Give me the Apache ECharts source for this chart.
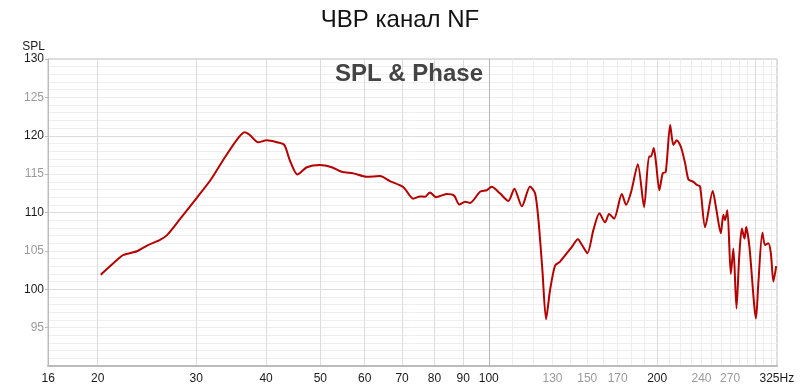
<!DOCTYPE html>
<html><head><meta charset="utf-8">
<script src="https://cdn.jsdelivr.net/npm/echarts@6/dist/echarts.min.js"></script>
<style>html,body{margin:0;padding:0;background:#fff}#c{width:800px;height:391px}</style>
</head><body><div id="c"></div>
<script>
// ---- data ----
const freqHz = [20.25,21.8,22.2,23.5,24.6,25.8,26.6,28.1,30.1,31.8,33.5,35.4,36.6,37.4,38.7,40.1,41.8,43.1,44.1,45.5,47.3,49.9,52.4,54.6,57.3,60.5,63.9,66.6,70.4,73.3,75.4,76.9,78.5,80.5,84.1,86.7,88.6,90.7,92.6,96.5,99.2,101.2,104.7,108.4,111.1,114.6,118.5,121.0,122.7,124.7,126.6,128.7,131.4,134.1,137.9,140.7,144.3,146.7,150.1,153.8,157.7,161.4,164.1,167.5,172.9,176.0,179.7,184.7,189.5,193.4,195.0,197.2,199.1,201.8,204.6,207.2,211.0,213.8,216.8,220.4,224.4,227.5,232.2,235.5,238.6,243.6,251.4,255.0,259.9,262.6,264.4,267.0,270.8,273.7,277.2,280.3,283.4,286.5,288.5,292.4,300.4,303.3,308.4,311.8,316.1,319.3,322.7,326.4];
const splDb = [101.9,104.0,104.45,104.95,105.75,106.4,107.05,109.2,111.95,114.2,116.8,119.4,120.45,120.1,119.15,119.4,119.15,118.8,116.8,114.95,115.9,116.2,115.9,115.3,115.1,114.65,114.75,114.1,113.3,111.8,112.1,112.05,112.6,112.0,112.4,112.2,111.05,111.4,111.25,112.7,112.9,113.35,112.5,111.5,113.1,110.8,113.4,112.5,109.0,102.5,96.1,99.9,103.1,103.6,104.7,105.5,106.5,105.8,104.7,107.7,109.9,108.7,109.8,109.2,112.4,111.0,112.7,116.3,110.7,117.3,117.3,118.4,116.4,112.9,115.1,115.3,121.4,118.8,119.4,118.6,116.4,114.3,114.0,113.6,113.4,108.1,112.8,110.5,107.3,109.7,109.0,110.3,102.0,105.3,97.5,104.2,107.9,106.6,108.1,105.5,96.2,100.8,107.35,105.75,106.0,104.7,101.0,103.0];

const xMin = 16.3, xMax = 327.5;
const xLabelValues = [16.32, 20, 30, 40, 50, 60, 70, 80, 90, 100, 130, 150, 170, 200, 240, 270, 327.3];
const xLabelTexts  = ['16','20','30','40','50','60','70','80','90','100','130','150','170','200','240','270','325Hz'];
const xLabelMuted  = ['130','150','170','240','270'];
const xGridValues = [20,30,40,50,60,70,80,90,100,110,120,130,140,150,160,170,180,190,200,210,220,230,240,250,260,270,280,290,300,310,320];

const yMin = 90, yMax = 130, yStep = 5;
const yLabelMuted = [95, 105, 115, 125];

const chartTitle = 'ЧВР канал NF';
const subTitle = 'SPL & Phase';
const yName = 'SPL';

// ---- styles ----
const FONT = '"Liberation Sans", Arial, Helvetica, sans-serif';
const xGridColors = xGridValues.map(v => v === 100 ? '#b4b4b4' : ((v < 100 || v % 100 === 0) ? '#dcdcdc' : '#ececec'));
const yTicks = [];
for (let v = yMin; v <= yMax; v += yStep) yTicks.push(v);
const yGridColors = yTicks.map(v => v % 10 === 0 ? '#dcdcdc' : '#ececec');

const chart = echarts.init(document.getElementById('c'), null, {renderer: 'canvas'});
chart.setOption({
  animation: false,
  backgroundColor: '#fff',
  title: [
    {text: chartTitle, left: 'center', top: 8, padding: 0,
     textStyle: {fontFamily: FONT, fontSize: 24, fontWeight: 'normal', color: '#111'}},
    {text: subTitle, left: 335, top: 62, padding: 0, z: 10,
     textStyle: {fontFamily: FONT, fontSize: 24, fontWeight: 'bold', color: '#444'}}
  ],
  grid: {left: 48, right: 23, top: 59, bottom: 25, containLabel: false,
         show: true, borderColor: '#bdbdbd', borderWidth: 1, backgroundColor: 'transparent'},
  xAxis: {
    type: 'log', logBase: 10, min: xMin, max: xMax,
    axisLine: {show: true, lineStyle: {color: '#bbbbbb', width: 2}},
    axisTick: {show: false, customValues: xGridValues},
    splitLine: {show: true, lineStyle: {color: xGridColors, width: 1}},
    minorTick: {show: false}, minorSplitLine: {show: false},
    axisLabel: {
      customValues: xLabelValues, margin: 7, fontFamily: FONT, fontSize: 12,
      formatter: function (v) {
        let best = 0, bd = Infinity;
        xLabelValues.forEach((lv, i) => { const d = Math.abs(lv - v); if (d < bd) { bd = d; best = i; } });
        const t = xLabelTexts[best];
        return xLabelMuted.indexOf(t) >= 0 ? '{g|' + t + '}' : '{d|' + t + '}';
      },
      rich: {d: {color: '#1a1a1a', fontFamily: FONT, fontSize: 12}, g: {color: '#9a9a9a', fontFamily: FONT, fontSize: 12}}
    }
  },
  yAxis: {
    type: 'value', min: yMin, max: yMax, interval: yStep,
    name: yName, nameLocation: 'end', nameGap: 6,
    nameTextStyle: {fontFamily: FONT, fontSize: 12, color: '#1a1a1a', align: 'right', verticalAlign: 'bottom', padding: [0, 3, 0, 0]},
    axisLine: {show: true, lineStyle: {color: '#bbbbbb', width: 1}},
    axisTick: {show: true, length: 3, lineStyle: {color: '#bbbbbb'}},
    splitLine: {show: true, lineStyle: {color: yGridColors, width: 1}},
    minorTick: {show: false, splitNumber: 5},
    minorSplitLine: {show: true, lineStyle: {color: '#efefef', width: 1}},
    axisLabel: {
      margin: 4, fontFamily: FONT, fontSize: 12, showMinLabel: false,
      formatter: function (v) { return yLabelMuted.indexOf(v) >= 0 ? '{g|' + v + '}' : '{d|' + v + '}'; },
      rich: {d: {color: '#1a1a1a', fontFamily: FONT, fontSize: 12}, g: {color: '#9a9a9a', fontFamily: FONT, fontSize: 12}}
    }
  },
  series: [{
    type: 'line', name: 'SPL',
    data: freqHz.map((f, i) => [f, splDb[i]]),
    showSymbol: false, symbol: 'none',
    smooth: 0.25,
    lineStyle: {color: '#b50000', width: 2},
    z: 5
  }]
});
</script></body></html>
